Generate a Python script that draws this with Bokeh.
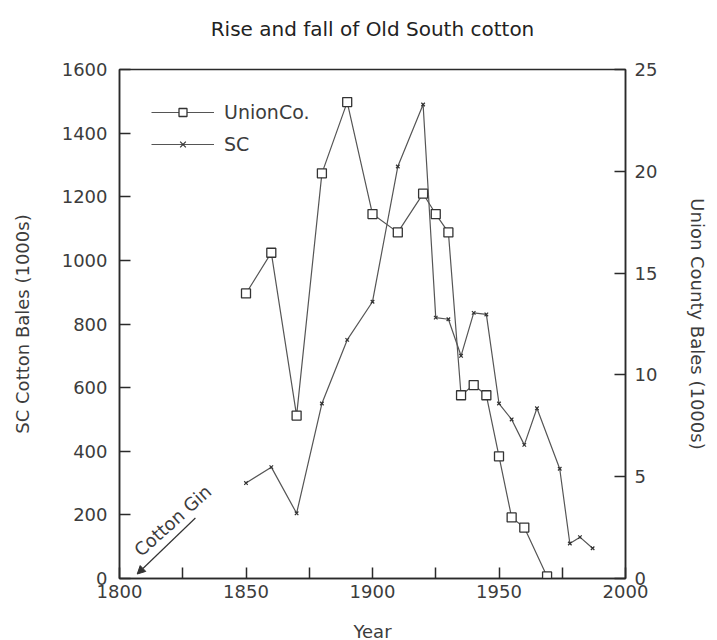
from bokeh.plotting import figure
from bokeh.models import (Range1d, LinearAxis, FixedTicker, Legend, LegendItem,
                          Label, Arrow, NormalHead, Title)
from bokeh.embed import file_html
from bokeh.resources import INLINE

# ---- data ----
union_years = [1850, 1860, 1870, 1880, 1890, 1900, 1910, 1920, 1925, 1930,
               1935, 1940, 1945, 1950, 1955, 1960, 1969]
union_bales = [14.0, 16.0, 8.0, 19.9, 23.4, 17.9, 17.0, 18.9, 17.9, 17.0,
               9.0, 9.5, 9.0, 6.0, 3.0, 2.5, 0.1]

sc_years = [1850, 1860, 1870, 1880, 1890, 1900, 1910, 1920, 1925, 1930,
            1935, 1940, 1945, 1950, 1955, 1960, 1965, 1974, 1978, 1982, 1987]
sc_bales = [300, 350, 205, 550, 750, 870, 1295, 1490, 820, 815,
            700, 835, 830, 550, 500, 420, 535, 345, 110, 130, 95]

x_ticks = [1800, 1825, 1850, 1875, 1900, 1925, 1950, 1975, 2000]
x_tick_labels = {1800: "1800", 1825: "", 1850: "1850", 1875: "", 1900: "1900",
                 1925: "", 1950: "1950", 1975: "", 2000: "2000"}
left_ticks = [0, 200, 400, 600, 800, 1000, 1200, 1400, 1600]
right_ticks = [0, 5, 10, 15, 20, 25]

FONT = "DejaVu Sans"
TXT = "#3c3c3c"
LINE = "#555555"
AX = "#2a2a2a"

p = figure(frame_width=506, frame_height=509,
           x_range=Range1d(1800, 2000), y_range=Range1d(0, 1600),
           output_backend="svg", toolbar_location=None,
           min_border_left=119, min_border_right=90,
           min_border_top=69, min_border_bottom=60,
           background_fill_color="white", border_fill_color="white")
p.extra_y_ranges = {"union": Range1d(0, 25)}
p.xgrid.visible = False
p.ygrid.visible = False
p.outline_line_color = AX
p.outline_line_width = 1.5

# blank spacer between the frame and the title (lifts the title up)
p.add_layout(Title(text=" ", text_font=FONT, text_font_size="19px",
                   standoff=0), "above")

p.title.text = "Rise and fall of Old South cotton"
p.title.align = "center"
p.title.text_font = FONT
p.title.text_font_size = "20px"
p.title.text_font_style = "normal"
p.title.text_color = "#222222"
p.title.standoff = 10

right_axis = LinearAxis(y_range_name="union")
p.add_layout(right_axis, "right")

p.xaxis.ticker = FixedTicker(ticks=x_ticks)
p.xaxis.major_label_overrides = x_tick_labels
p.yaxis[0].ticker = FixedTicker(ticks=left_ticks)
right_axis.ticker = FixedTicker(ticks=right_ticks)

p.xaxis.axis_label = "Year"
p.yaxis[0].axis_label = "SC Cotton Bales (1000s)"
right_axis.axis_label = "Union County Bales (1000s)"

for ax in [p.xaxis[0], p.yaxis[0], right_axis]:
    ax.axis_line_color = AX
    ax.axis_line_width = 1.5
    ax.major_tick_line_color = AX
    ax.major_tick_line_width = 1.5
    ax.major_tick_in = 11
    ax.major_tick_out = 0
    ax.minor_tick_line_color = None
    ax.major_label_text_font = FONT
    ax.major_label_text_font_size = "18px"
    ax.major_label_text_color = TXT
    ax.axis_label_text_font = FONT
    ax.axis_label_text_font_size = "18px"
    ax.axis_label_text_font_style = "normal"
    ax.axis_label_text_color = TXT

p.xaxis.major_label_standoff = 6
p.xaxis.axis_label_standoff = 20
p.yaxis[0].major_label_standoff = 12
p.yaxis[0].axis_label_standoff = 26
right_axis.major_label_standoff = 9
right_axis.axis_label_standoff = 27

# ---- series ----
u_line = p.line(union_years, union_bales, y_range_name="union",
                line_color=LINE, line_width=1.2)
u_pts = p.scatter(union_years, union_bales, y_range_name="union",
                  marker="square", size=9, fill_color="white",
                  line_color="#333333", line_width=1.3)
s_line = p.line(sc_years, sc_bales, line_color=LINE, line_width=1.2)
s_pts = p.scatter(sc_years, sc_bales, marker="x", size=5,
                  line_color="#333333", line_width=1.2)

legend = Legend(items=[LegendItem(label="UnionCo.", renderers=[u_line, u_pts]),
                       LegendItem(label="SC", renderers=[s_line, s_pts])],
                location="top_left", border_line_color=None,
                background_fill_alpha=0, glyph_width=63, glyph_height=20,
                label_height=20, label_standoff=10, spacing=10,
                margin=32, padding=10,
                label_text_font=FONT, label_text_font_size="19px",
                label_text_color=TXT)
p.add_layout(legend)

# ---- Cotton Gin annotation ----
p.add_layout(Arrow(x_start=1830, y_start=190, x_end=1807, y_end=14,
                   line_color="#333333", line_width=1.2,
                   end=NormalHead(size=8, fill_color="#333333",
                                  line_color="#333333")))
p.add_layout(Label(x=1821, y=182, text="Cotton Gin", angle=42,
                   angle_units="deg", text_align="center",
                   text_baseline="middle", text_font=FONT,
                   text_font_size="18px", text_color=TXT))

open("out.html", "w").write(file_html(p, INLINE))
